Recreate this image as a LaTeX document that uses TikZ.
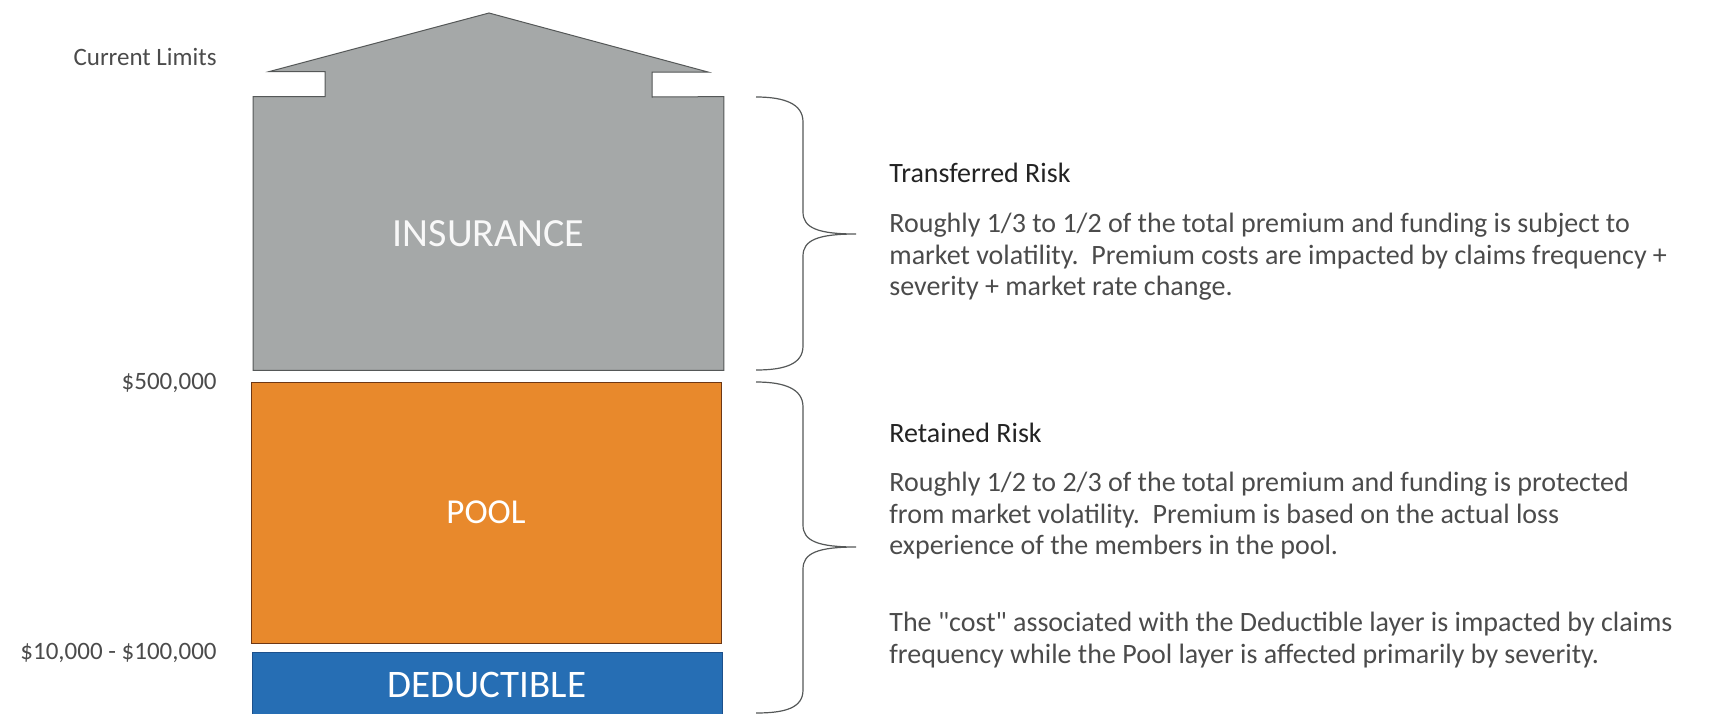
\documentclass[tikz,border=0pt]{standalone}
\usepackage{fontspec}
\setmainfont{Carlito}[Ligatures=TeXOff]
\usetikzlibrary{positioning}
\definecolor{lyGray}{RGB}{165,168,168}
\definecolor{lyGrayLine}{RGB}{85,88,88}
\definecolor{lyOrange}{RGB}{232,137,44}
\definecolor{lyOrangeLine}{RGB}{110,55,20}
\definecolor{lyBlue}{RGB}{38,110,180}
\definecolor{lyBlueLine}{RGB}{28,80,140}
\definecolor{lyText}{RGB}{75,75,75}
\definecolor{lyHead}{RGB}{35,35,35}
\tikzset{
    base/.style={align=left, inner sep=0pt},
    layer/.style={rectangle, text=white, minimum width=235pt, inner sep=0pt},
    limit/.style={base, anchor=east, text=lyText, font=\fontsize{12.5}{15}\selectfont},
    heading/.style={base, anchor=west, text=lyHead, font=\fontsize{14}{16}\selectfont},
    para/.style={base, anchor=north west, text=lyText, font=\fontsize{14}{15.75}\selectfont},
    curly/.style={draw=lyGrayLine, line width=0.6pt}
}

\begin{document}
\begin{tikzpicture}[x=0.5pt,y=-0.5pt]
  \useasboundingbox (0,0) rectangle (1724,713);

  % the three layers
  \node[layer, minimum height=136.5pt] (ins) at (488.5,233.5) {};
  \filldraw[fill=lyGray, draw=lyGrayLine, line width=0.5pt]
    (ins.south west) -- (ins.north west) -- ++(72,0) -- ++(0,-25) -- ++(-56,0)
    -- (489,13) -- (708,72) -- ++(-56,0) -- ++(0,25) -- (ins.north east)
    -- (ins.south east) -- cycle;
  \node[text=white!92!lyGray, font=\fontsize{20}{22}\selectfont] (insLabel) at (ins.center) {INSURANCE};
  \node[layer, fill=lyOrange, draw=lyOrangeLine, line width=0.5pt, minimum height=130.5pt,
        font=\fontsize{17.5}{20}\selectfont] (pool) at (486,512.5) {POOL};
  \node[layer, fill=lyBlue, draw=lyBlueLine, line width=0.5pt, minimum height=33pt,
        font=\fontsize{19.5}{22}\selectfont] (ded) at (487,685) {DEDUCTIBLE};

  % limits on the left
  \node[limit] (curLim) at (217,57) {Current Limits};
  \node[limit] (poolLim) at (217,383) {\$500,000};
  \node[limit] (dedLim) at (217,653) {\$10,000 - \$100,000};

  % braces
  \draw[curly] (756,97) .. controls (785,97) and (803,104) .. (803,122) -- (803,212)
    .. controls (803,228) and (818,234) .. (856,234)
    .. controls (818,234) and (803,240) .. (803,256) -- (803,346)
    .. controls (803,364) and (785,370) .. (756,370);
  \draw[curly] (756,382) .. controls (785,382) and (803,389) .. (803,407) -- (803,525)
    .. controls (803,541) and (818,547) .. (856,547)
    .. controls (818,547) and (803,553) .. (803,569) -- (803,690)
    .. controls (803,708) and (785,713) .. (756,713);

  % transferred risk
  \node[heading] (transHead) at (889,173) {Transferred Risk};
  \node[para] (transText) at (889,213) {Roughly 1/3 to 1/2 of the total premium and funding is subject to\\
    market volatility.\ \ Premium costs are impacted by claims frequency +\\
    severity + market rate change.};

  % retained risk
  \node[heading] (retHead) at (889,433) {Retained Risk};
  \node[para] (retText) at (889,472) {Roughly 1/2 to 2/3 of the total premium and funding is protected\\
    from market volatility.\ \ Premium is based on the actual loss\\
    experience of the members in the pool.};
  \node[para] (costText) at (889,612) {The "cost" associated with the Deductible layer is impacted by claims\\
    frequency while the Pool layer is affected primarily by severity.};
\end{tikzpicture}
\end{document}
